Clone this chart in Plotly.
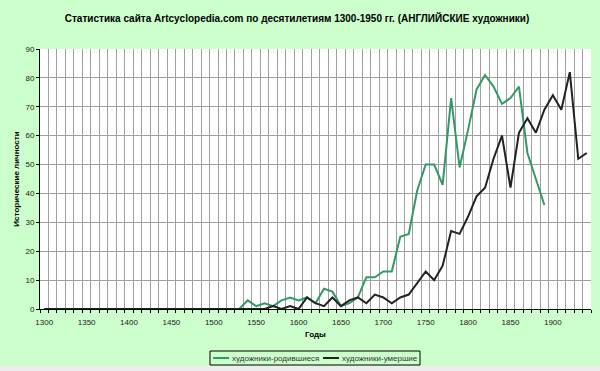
import plotly.graph_objects as go

years = list(range(1300, 1950, 10))

born = [0] * 23 + [  # 1300..1520
    0, 3, 1, 2, 1, 3, 4, 3, 4, 2,          # 1530..1620
    7, 6, 1, 2, 4, 11, 11, 13, 13, 25,     # 1630..1720
    26, 41, 50, 50, 43, 73, 49, 62, 76, 81, # 1730..1820
    77, 71, 73, 77, 54, 45, 36,            # 1830..1890
    None, None, None, None, None           # 1900..1940
]

died = [0] * 26 + [  # 1300..1550
    0, 1, 0, 1, 0, 4, 2, 1, 4, 1,          # 1560..1650
    3, 4, 2, 5, 4, 2, 4, 5, 9, 13,         # 1660..1750
    10, 15, 27, 26, 32, 39, 42, 52, 60, 42, # 1760..1850
    61, 66, 61, 69, 74, 69, 82, 52, 54     # 1860..1940
]

x_tick_vals = list(range(1300, 1950, 50))
x_tick_text = [str(v) for v in x_tick_vals]
y_tick_vals = list(range(0, 91, 10))

series_names = ["художники-родившиеся", "художники-умершие"]
series_colors = ["#339966", "#222222"]
title_text = "Статистика сайта Artcyclopedia.com по десятилетиям 1300-1950 гг. (АНГЛИЙСКИЕ художники)"
x_title = "Годы"
y_title = "Исторические личности"

FONT = "Liberation Sans, Arial, sans-serif"
BG = "#CCFFCC"
GRID = "#A0A0A0"

W, H = 600, 371
ML, MR, MT, MB = 40, 9, 49, 62
PW, PH = W - ML - MR, H - MT - MB


def px_x(p):
    return (p - ML) / PW


def px_y(p):
    return (H - MB - p) / PH


fig = go.Figure()
for name, vals, col in zip(series_names, [born, died], series_colors):
    fig.add_trace(go.Scatter(x=years, y=vals, mode="lines", name=name,
                             line=dict(color=col, width=2), connectgaps=False,
                             showlegend=False, hoverinfo="skip"))

# custom legend (Excel-like compact box)
shapes = [
    dict(type="rect", xref="paper", yref="paper", x0=px_x(210), x1=px_x(420),
         y0=px_y(351), y1=px_y(365), line=dict(color="#000000", width=1),
         fillcolor="rgba(0,0,0,0)", layer="above"),
    dict(type="line", xref="paper", yref="paper", x0=px_x(213), x1=px_x(229),
         y0=px_y(358), y1=px_y(358), line=dict(color=series_colors[0], width=2)),
    dict(type="line", xref="paper", yref="paper", x0=px_x(323), x1=px_x(339),
         y0=px_y(358), y1=px_y(358), line=dict(color=series_colors[1], width=2)),
    # grey strip at the very bottom of the window
    dict(type="rect", xref="paper", yref="paper", x0=px_x(0), x1=px_x(600),
         y0=px_y(366), y1=px_y(372), line=dict(width=0), fillcolor="#EDEDED", layer="below"),
]
annotations = [
    dict(text=series_names[0], xref="paper", yref="paper", x=px_x(230), y=px_y(358),
         xanchor="left", yanchor="middle", showarrow=False,
         font=dict(family=FONT, size=8, color="#333333")),
    dict(text=series_names[1], xref="paper", yref="paper", x=px_x(340), y=px_y(358),
         xanchor="left", yanchor="middle", showarrow=False,
         font=dict(family=FONT, size=8, color="#333333")),
]

fig.update_layout(
    width=W, height=H,
    margin=dict(l=ML, r=MR, t=MT, b=MB, autoexpand=False),
    paper_bgcolor=BG,
    plot_bgcolor="#FFFFFF",
    font=dict(family=FONT, size=8, color="#222222"),
    title=dict(text="<b>" + title_text + "</b>", x=0.495, xref="container", xanchor="center",
               y=1 - 18 / H, yref="container", yanchor="middle",
               font=dict(family=FONT, size=10, color="#000000")),
    showlegend=False,
    hovermode=False,
    shapes=shapes,
    annotations=annotations,
    xaxis=dict(
        range=[1295, 1945], tickmode="array", tickvals=x_tick_vals, ticktext=x_tick_text,
        showgrid=False, ticks="", zeroline=False, automargin=False,
        showline=True, linecolor="#000000", linewidth=1,
        tickfont=dict(family=FONT, size=8, color="#222222"),
        ticklabelstandoff=5,
        title=dict(text="<b>" + x_title + "</b>", font=dict(family=FONT, size=8, color="#000000"),
                   standoff=5),
        minor=dict(tickmode="linear", tick0=1295, dtick=10, showgrid=True, gridcolor=GRID,
                   gridwidth=1, ticks="outside", ticklen=3, tickcolor="#000000"),
        fixedrange=True,
    ),
    yaxis=dict(
        range=[0, 90], tickmode="array", tickvals=y_tick_vals,
        showgrid=True, gridcolor=GRID, gridwidth=1, zeroline=False, automargin=False,
        showline=True, linecolor="#000000", linewidth=1,
        ticks="outside", ticklen=3, tickcolor="#000000",
        tickfont=dict(family=FONT, size=8, color="#222222"),
        title=dict(text="<b>" + y_title + "</b>", font=dict(family=FONT, size=8, color="#000000"),
                   standoff=4),
        fixedrange=True,
    ),
)

fig.write_html("out.html", config={"displayModeBar": False, "staticPlot": True},
               post_script="document.body.style.margin='0';document.body.style.background='#CCFFCC';")
